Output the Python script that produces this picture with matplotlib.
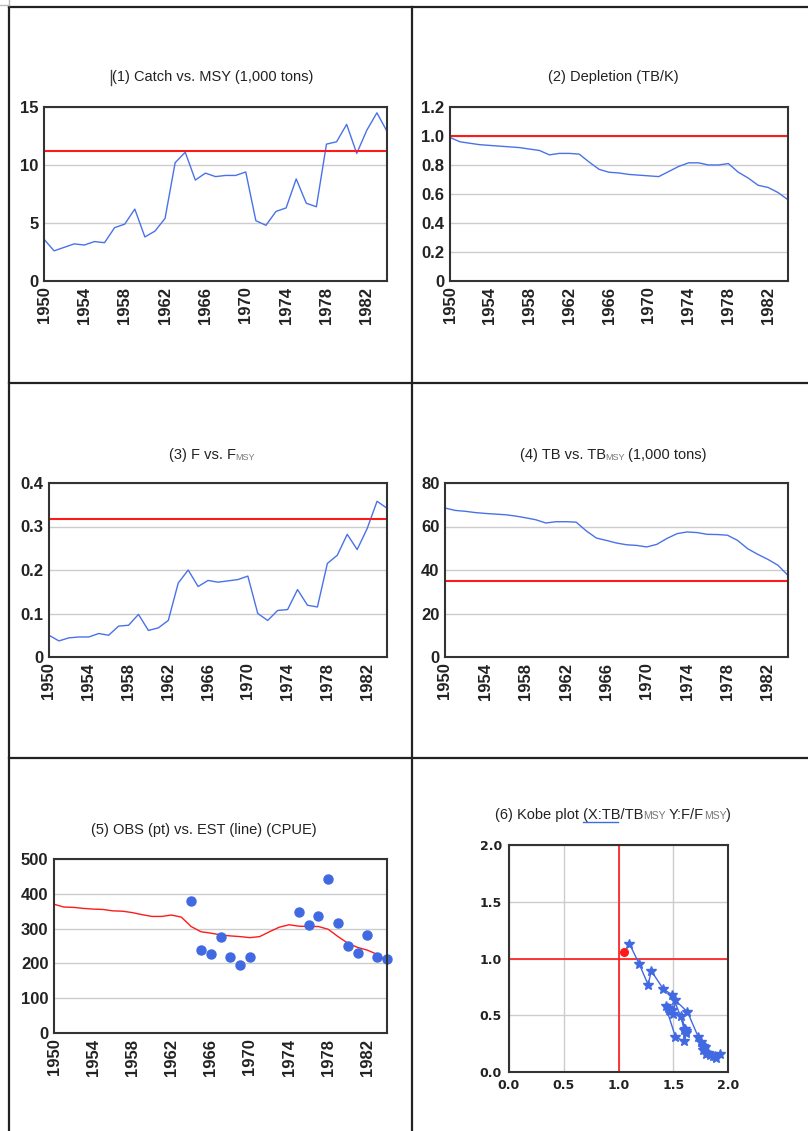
import matplotlib
matplotlib.use("Agg")
import matplotlib.pyplot as plt
from matplotlib.lines import Line2D

W, H = 808, 1131

years = list(range(1950, 1985))
catch = [3.6, 2.6, 2.9, 3.2, 3.1, 3.4, 3.3, 4.6, 4.9, 6.2,
         3.8, 4.3, 5.4, 10.2, 11.1, 8.7, 9.3, 9.0, 9.1, 9.1,
         9.4, 5.2, 4.8, 6.0, 6.3, 8.8, 6.7, 6.4, 11.8, 12.0,
         13.5, 11.0, 13.0, 14.5, 12.9]
msy = 11.2
depletion = [0.99, 0.96, 0.95, 0.94, 0.935, 0.93, 0.925, 0.92, 0.91, 0.90,
             0.87, 0.88, 0.88, 0.875, 0.82, 0.77, 0.75, 0.745, 0.735, 0.73,
             0.725, 0.72, 0.755, 0.79, 0.815, 0.815, 0.80, 0.80, 0.81, 0.75,
             0.71, 0.66, 0.645, 0.61, 0.56]
f_values = [0.050, 0.037, 0.044, 0.046, 0.046, 0.054, 0.050, 0.071, 0.073, 0.098,
            0.061, 0.067, 0.084, 0.170, 0.200, 0.162, 0.176, 0.172, 0.175, 0.178,
            0.186, 0.100, 0.084, 0.107, 0.109, 0.155, 0.119, 0.115, 0.215, 0.234,
            0.282, 0.247, 0.295, 0.358, 0.342]
f_msy = 0.318
tb = [68.5, 67.4, 67.0, 66.4, 66.0, 65.7, 65.4, 64.8, 64.0, 63.1,
      61.6, 62.2, 62.2, 62.0, 58.0, 54.7, 53.6, 52.4, 51.6, 51.3,
      50.6, 51.8, 54.5, 56.7, 57.5, 57.2, 56.4, 56.3, 56.0, 53.6,
      49.8, 47.2, 44.9, 42.2, 37.5]
tb_msy = 34.8
cpue_est = [370, 362, 361, 358, 356, 355, 351, 350, 346, 340,
            335, 335, 339, 333, 306, 291, 287, 282, 279, 277,
            274, 277, 291, 304, 311, 307, 306, 306, 298, 277,
            258, 246, 238, 226, 205]
obs_years = [1964, 1965, 1966, 1967, 1968, 1969, 1970,
             1975, 1976, 1977, 1978, 1979, 1980, 1981, 1982, 1983, 1984]
cpue_obs = [378, 238, 227, 277, 218, 194, 218,
            348, 309, 335, 443, 315, 250, 229, 281, 219, 212]
# Kobe trajectory 1950-1983, last year (1984) in red
kobe_x = [1.93, 1.89, 1.88, 1.86, 1.84, 1.82, 1.80, 1.79, 1.77, 1.73,
          1.77, 1.78, 1.75, 1.63, 1.52, 1.50, 1.49, 1.47, 1.46, 1.45,
          1.43, 1.52, 1.60, 1.62, 1.60, 1.57, 1.61, 1.62, 1.49, 1.41,
          1.30, 1.27, 1.19, 1.10]
kobe_y = [0.16, 0.12, 0.14, 0.14, 0.15, 0.17, 0.16, 0.22, 0.23, 0.31,
          0.19, 0.21, 0.26, 0.53, 0.63, 0.51, 0.55, 0.54, 0.55, 0.56,
          0.58, 0.31, 0.27, 0.34, 0.37, 0.49, 0.38, 0.36, 0.68, 0.73,
          0.89, 0.77, 0.95, 1.13]
kobe_last = (1.05, 1.06)

year_ticks = list(range(1950, 1983, 4))
BLUE = "#4a72e8"
RED = "#ff1a1a"
GRID = "#cccccc"
FRAME = "#333333"
TSIZE = 10.5

fig = plt.figure(figsize=(W / 100, H / 100), dpi=100)
fig.patch.set_facecolor("white")


def px_axes(l, t, r, b):
    return fig.add_axes([l / W, 1 - b / H, (r - l) / W, (b - t) / H])


def fig_line(x0, y0, x1, y1, color="#222222", lw=1.6):
    fig.add_artist(Line2D([x0 / W, x1 / W], [1 - y0 / H, 1 - y1 / H],
                          transform=fig.transFigure, color=color, lw=lw))


def rich_title(xc, yc, parts):
    # parts: (text, fontsize, color, drop_px, gap_px)
    items = []
    for s, size, color, dy, gap in parts:
        t = fig.text(0, 0, s, fontsize=size, color=color,
                     family="Liberation Sans", va="baseline", ha="left")
        items.append((t, dy, gap))
    r = fig.canvas.get_renderer()
    widths = [t.get_window_extent(r).width for t, _, _ in items]
    total = sum(widths) + sum(g for _, _, g in items)
    x = xc - total / 2
    for (t, dy, gap), w in zip(items, widths):
        x += gap
        t.set_position((x / W, 1 - (yc + 4 + dy) / H))
        x += w


def style_ts(ax, ymax, yticks, ylabels):
    ax.set_xlim(1950, 1984)
    ax.set_ylim(0, ymax)
    ax.set_xticks(year_ticks)
    ax.set_xticklabels([str(y) for y in year_ticks], rotation=90,
                       fontsize=12, fontweight="bold", family="Liberation Sans")
    ax.set_yticks(yticks)
    ax.set_yticklabels(ylabels, fontsize=12, fontweight="bold",
                       family="Liberation Sans")
    ax.tick_params(length=0, pad=4, colors="#222222")
    ax.grid(axis="y", color=GRID, lw=1)
    ax.set_axisbelow(True)
    for sp in ax.spines.values():
        sp.set_color(FRAME)
        sp.set_linewidth(1.5)


# table borders
fig_line(9, 7, 808, 7)
fig_line(9, 7, 9, 1131)
fig_line(412, 7, 412, 1131)
fig_line(9, 383, 808, 383)
fig_line(9, 758, 808, 758)
fig_line(0, 5, 9, 5, color="#bbbbbb", lw=1)
fig_line(9, 0, 9, 5, color="#bbbbbb", lw=1)

# (1) catch
ax1 = px_axes(44, 107, 387, 281)
ax1.plot(years, catch, color=BLUE, lw=1)
ax1.axhline(msy, color=RED, lw=1.5)
style_ts(ax1, 15, [0, 5, 10, 15], ["0", "5", "10", "15"])
rich_title(213, 77, [("(1) Catch vs. MSY (1,000 tons)", TSIZE, "#222222", 0, 0)])
fig_line(111, 70, 111, 85, color="#444444", lw=1)

# (2) depletion
ax2 = px_axes(450, 107, 788, 281)
ax2.plot(years, depletion, color=BLUE, lw=1)
ax2.axhline(1.0, color=RED, lw=1.5)
style_ts(ax2, 1.2, [0, 0.2, 0.4, 0.6, 0.8, 1.0, 1.2],
         ["0", "0.2", "0.4", "0.6", "0.8", "1.0", "1.2"])
rich_title(613, 77, [("(2) Depletion (TB/K)", TSIZE, "#222222", 0, 0)])

# (3) F
ax3 = px_axes(49, 483, 387, 657)
ax3.plot(years, f_values, color=BLUE, lw=1)
ax3.axhline(f_msy, color=RED, lw=1.5)
style_ts(ax3, 0.4, [0, 0.1, 0.2, 0.3, 0.4], ["0", "0.1", "0.2", "0.3", "0.4"])
rich_title(212, 455, [("(3) F vs. F", TSIZE, "#222222", 0, 0),
                      ("MSY", 6.5, "#777777", 1, 0)])

# (4) TB
ax4 = px_axes(445, 483, 788, 657)
ax4.plot(years, tb, color=BLUE, lw=1)
ax4.axhline(tb_msy, color=RED, lw=1.5)
style_ts(ax4, 80, [0, 20, 40, 60, 80], ["0", "20", "40", "60", "80"])
rich_title(613, 455, [("(4) TB vs. TB", TSIZE, "#222222", 0, 0),
                      ("MSY", 6.5, "#777777", 1, 0),
                      ("(1,000 tons)", TSIZE, "#222222", 0, 3)])

# (5) CPUE
ax5 = px_axes(54, 859, 387, 1033)
ax5.plot(years, cpue_est, color=RED, lw=1)
ax5.plot(obs_years, cpue_obs, "o", color="#4169e1", ms=6.5, clip_on=False)
style_ts(ax5, 500, [0, 100, 200, 300, 400, 500],
         ["0", "100", "200", "300", "400", "500"])
rich_title(204, 830, [("(5) OBS (pt) vs. EST (line) (CPUE)", TSIZE, "#222222", 0, 0)])

# (6) Kobe plot
ax6 = px_axes(509, 845, 728, 1072)
ax6.set_xlim(0, 2)
ax6.set_ylim(0, 2)
ax6.set_xticks([0, 0.5, 1.0, 1.5, 2.0])
ax6.set_yticks([0, 0.5, 1.0, 1.5, 2.0])
ax6.set_xticklabels(["0.0", "0.5", "1.0", "1.5", "2.0"], fontsize=9,
                    fontweight="bold", family="DejaVu Sans")
ax6.set_yticklabels(["0.0", "0.5", "1.0", "1.5", "2.0"], fontsize=9,
                    fontweight="bold", family="DejaVu Sans")
ax6.tick_params(length=0, pad=5, colors="#222222")
ax6.grid(color=GRID, lw=1)
ax6.set_axisbelow(True)
for sp in ax6.spines.values():
    sp.set_color(FRAME)
    sp.set_linewidth(1.5)
ax6.axvline(1.0, color=RED, lw=1.2)
ax6.axhline(1.0, color=RED, lw=1.2)
ax6.plot(kobe_x, kobe_y, color="#4169e1", lw=1, marker="*", ms=7.5)
ax6.plot([kobe_last[0]], [kobe_last[1]], "o", color=RED, ms=5.5)
rich_title(613, 815, [("(6) Kobe plot (X:TB/TB", TSIZE, "#222222", 0, 0),
                      ("MSY", 7.5, "#777777", 0, 0),
                      ("Y:F/F", TSIZE, "#222222", 0, 3),
                      ("MSY", 7.5, "#777777", 0, 0),
                      (")", TSIZE, "#222222", 0, 0)])
fig_line(583, 822, 618, 822, color="#3a6fe0", lw=1)

fig.savefig("out.png", dpi=100)
